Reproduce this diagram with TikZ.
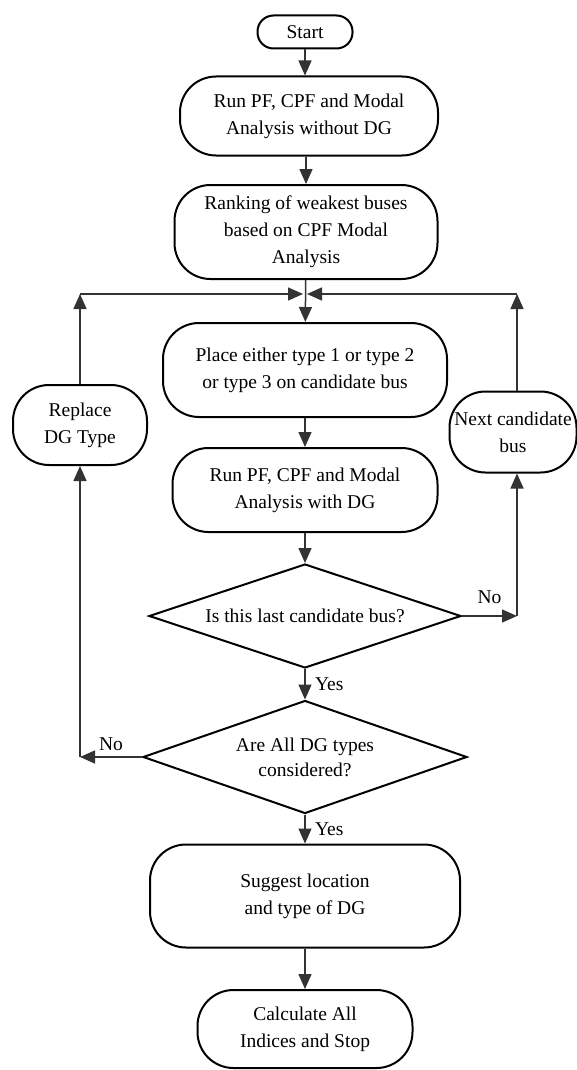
\documentclass[tikz,border=0pt]{standalone}
\usepackage{fontspec}
\setmainfont{Liberation Serif}
\usepackage{tikz}
\usetikzlibrary{arrows.meta,calc,positioning,shapes.geometric}
\definecolor{lineg}{HTML}{333333}

\begin{document}
\begin{tikzpicture}[x=1pt,y=-1pt,>={Triangle[length=15pt,width=13pt]},
  box/.style={draw=black,line width=2pt,rounded corners=36pt,align=center,inner sep=0pt,font=\fontsize{19.5}{27}\selectfont},
  dec/.style={draw=black,line width=2pt,diamond,aspect=3,inner sep=0pt,align=center,font=\fontsize{19.5}{25}\selectfont},
  conn/.style={draw=lineg,line width=1.5pt,->},
  lbl/.style={font=\fontsize{19.5}{22}\selectfont}]
\useasboundingbox (0,0) rectangle (577,1070);
% main column
\node[box,minimum width=95pt,minimum height=33pt,rounded corners=16pt] (start) at (305,32) {Start};
\node[box,minimum width=258pt,minimum height=79pt] (run1) at (309,116) {Run PF, CPF and Modal\\Analysis without DG};
\node[box,minimum width=263pt,minimum height=94pt] (rank) at (306,232) {Ranking of weakest buses\\based on CPF Modal\\Analysis};
\node[box,minimum width=284pt,minimum height=94pt] (place) at (305,370) {Place either type 1 or type 2\\or type 3 on candidate bus};
\node[box,minimum width=265pt,minimum height=84pt] (run2) at (305,490) {Run PF, CPF and Modal\\Analysis with DG};
\node[dec,minimum width=312pt,minimum height=104pt] (last) at (305,616) {Is this last candidate bus?};
\node[dec,minimum width=324pt,minimum height=113pt] (alltypes) at (305,757) {Are All DG types\\considered?};
\node[box,minimum width=310pt,minimum height=103pt] (suggest) at (305,896) {Suggest location\\and type of DG};
\node[box,minimum width=215pt,minimum height=78pt] (calc) at (305,1029) {Calculate All\\Indices and Stop};
% side boxes
\node[box,minimum width=134pt,minimum height=80pt] (replace) at (80,425) {Replace\\DG Type};
\node[box,minimum width=127pt,minimum height=81pt] (nextbus) at (513,432) {Next candidate\\bus};
% loop corners
\coordinate (ltop) at (80,294);
\coordinate (rtop) at (517,294);
\coordinate (jl) at (303,294);
\coordinate (jr) at (307,294);
\coordinate (lbot) at (80,757);
\coordinate (rbot) at (517,616);
% connectors
\draw[conn] (start.south) -- (start.south |- run1.north);
\draw[conn] (run1.south -| rank.north) -- (rank.north);
\draw[conn] (rank) -- (place);
\draw[conn] (place) -- (run2);
\draw[conn] (run2) -- (last);
\draw[conn] (last) -- node[lbl,right=6pt]{Yes} (alltypes);
\draw[conn] (alltypes) -- node[lbl,right=6pt]{Yes} (suggest);
\draw[conn] (suggest) -- (calc);
\draw[conn] (last.east) -- node[lbl,above=8pt]{No} (rbot);
\draw[conn] (rbot) -- (rbot |- nextbus.south);
\draw[conn] (rtop |- nextbus.north) -- (rtop);
\draw[conn] (rtop) -- (jr);
\draw[conn] (alltypes.west) -- node[lbl,above=2pt]{No} (lbot);
\draw[conn] (lbot) -- (lbot |- replace.south);
\draw[conn] (replace.north) -- (ltop);
\draw[conn] (ltop) -- (jl);
\end{tikzpicture}
\end{document}
